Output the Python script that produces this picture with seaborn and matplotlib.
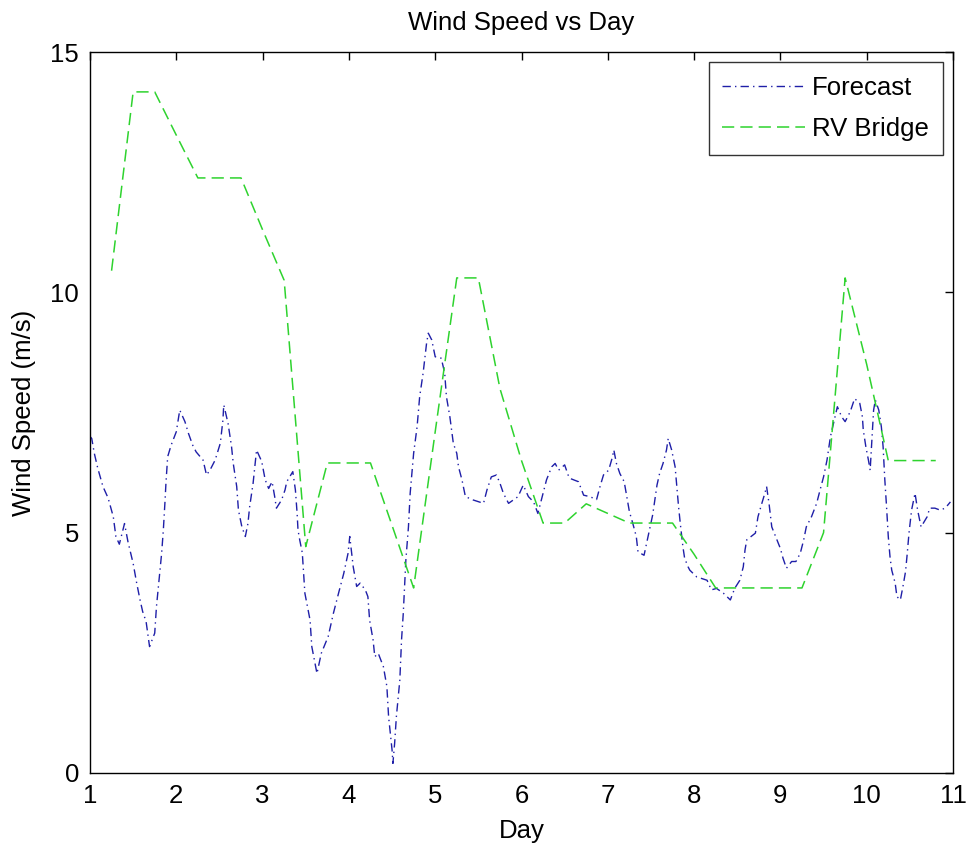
import matplotlib
matplotlib.use("Agg")
import matplotlib.pyplot as plt
import seaborn as sns
import pandas as pd

# ---------------- data ----------------
forecast_day = [
    1.00, 1.02, 1.05, 1.09, 1.15, 1.21, 1.27, 1.30, 1.34, 1.40, 1.44, 1.50, 1.54, 1.58, 1.61, 1.65,
    1.69, 1.75, 1.77, 1.80, 1.83, 1.85, 1.87, 1.88, 1.90, 1.94, 2.00, 2.04, 2.10, 2.14, 2.19, 2.23,
    2.31, 2.35, 2.39, 2.45, 2.51, 2.54, 2.55, 2.60, 2.64, 2.66, 2.70, 2.72, 2.76, 2.80, 2.83, 2.85,
    2.89, 2.91, 2.93, 2.99, 3.03, 3.07, 3.11, 3.14, 3.16, 3.22, 3.26, 3.28, 3.35, 3.38, 3.40, 3.41,
    3.43, 3.46, 3.49, 3.55, 3.57, 3.63, 3.68, 3.76, 3.82, 3.88, 3.94, 3.99, 4.01, 4.05, 4.09, 4.13,
    4.19, 4.22, 4.24, 4.28, 4.30, 4.34, 4.40, 4.44, 4.46, 4.50, 4.51, 4.53, 4.55, 4.59, 4.61, 4.63,
    4.65, 4.66, 4.69, 4.71, 4.75, 4.79, 4.82, 4.86, 4.90, 4.92, 4.96, 5.00, 5.07, 5.11, 5.13, 5.17,
    5.21, 5.25, 5.27, 5.31, 5.35, 5.44, 5.56, 5.60, 5.65, 5.71, 5.75, 5.79, 5.85, 5.96, 6.02, 6.08,
    6.14, 6.19, 6.25, 6.29, 6.35, 6.39, 6.43, 6.50, 6.54, 6.56, 6.66, 6.72, 6.79, 6.87, 6.91, 6.95,
    7.01, 7.05, 7.07, 7.10, 7.14, 7.19, 7.22, 7.25, 7.29, 7.33, 7.35, 7.42, 7.45, 7.49, 7.52, 7.55,
    7.57, 7.60, 7.64, 7.68, 7.70, 7.74, 7.78, 7.80, 7.82, 7.84, 7.87, 7.89, 7.93, 7.95, 8.03, 8.15,
    8.20, 8.26, 8.34, 8.42, 8.47, 8.53, 8.57, 8.59, 8.61, 8.71, 8.74, 8.78, 8.82, 8.84, 8.87, 8.90,
    8.96, 9.00, 9.03, 9.07, 9.13, 9.18, 9.23, 9.27, 9.30, 9.36, 9.42, 9.46, 9.50, 9.54, 9.56, 9.58,
    9.62, 9.66, 9.71, 9.75, 9.81, 9.86, 9.92, 9.95, 9.96, 9.99, 10.02, 10.04, 10.08, 10.10, 10.14, 10.17,
    10.19, 10.21, 10.23, 10.25, 10.27, 10.29, 10.33, 10.35, 10.39, 10.42, 10.45, 10.47, 10.49, 10.52, 10.56, 10.59,
    10.63, 10.70, 10.73, 10.79, 10.85, 10.91, 10.97,
]
forecast_speed = [
    7.00, 6.96, 6.65, 6.34, 5.96, 5.72, 5.33, 4.92, 4.76, 5.19, 4.81, 4.36, 3.96, 3.60, 3.36, 3.15,
    2.63, 2.91, 3.46, 4.01, 4.57, 5.06, 5.68, 6.03, 6.58, 6.82, 7.10, 7.55, 7.31, 7.07, 6.82, 6.68,
    6.51, 6.20, 6.30, 6.51, 6.86, 7.34, 7.66, 7.27, 6.79, 6.44, 5.96, 5.47, 5.12, 4.92, 5.19, 5.54,
    6.03, 6.37, 6.72, 6.48, 6.10, 5.92, 6.06, 5.75, 5.51, 5.68, 5.89, 6.06, 6.27, 5.89, 5.40, 5.06,
    4.85, 4.58, 3.74, 3.18, 2.63, 2.07, 2.49, 2.84, 3.32, 3.74, 4.15, 4.57, 4.92, 4.29, 3.88, 3.95,
    3.81, 3.67, 3.18, 2.77, 2.42, 2.49, 2.21, 1.80, 1.17, 0.48, 0.20, 0.62, 1.17, 1.93, 2.77, 3.32,
    4.08, 4.43, 5.12, 5.82, 6.65, 7.20, 7.83, 8.32, 8.94, 9.15, 9.01, 8.66, 8.63, 8.32, 7.83, 7.41,
    6.86, 6.65, 6.37, 6.10, 5.75, 5.68, 5.61, 5.89, 6.16, 6.20, 6.03, 5.82, 5.61, 5.75, 5.99, 5.75,
    5.64, 5.40, 5.82, 6.10, 6.37, 6.44, 6.30, 6.41, 6.20, 6.13, 6.06, 5.78, 5.75, 5.69, 5.96, 6.20,
    6.30, 6.55, 6.72, 6.44, 6.23, 6.06, 5.75, 5.44, 5.19, 4.92, 4.60, 4.53, 4.78, 5.12, 5.37, 5.75,
    5.99, 6.23, 6.44, 6.72, 6.96, 6.72, 6.37, 5.96, 5.54, 5.19, 4.71, 4.47, 4.29, 4.22, 4.08, 4.01,
    3.81, 3.84, 3.74, 3.60, 3.84, 4.01, 4.29, 4.64, 4.85, 4.99, 5.33, 5.58, 5.82, 5.96, 5.58, 5.12,
    4.85, 4.67, 4.47, 4.26, 4.40, 4.40, 4.57, 4.85, 5.12, 5.33, 5.61, 5.89, 6.16, 6.51, 6.75, 7.00,
    7.31, 7.62, 7.41, 7.31, 7.52, 7.79, 7.69, 7.41, 7.14, 6.79, 6.51, 6.30, 7.55, 7.76, 7.55, 7.20,
    6.79, 6.10, 5.54, 4.92, 4.50, 4.22, 3.95, 3.67, 3.60, 3.88, 4.19, 4.57, 4.99, 5.47, 5.82, 5.47,
    5.12, 5.33, 5.51, 5.51, 5.47, 5.51, 5.64,
]

bridge_day = [
    1.25, 1.50, 1.75, 2.00, 2.25, 2.50, 2.75, 3.00, 3.25, 3.50, 3.75, 4.00, 4.25, 4.50, 4.75, 5.00,
    5.25, 5.50, 5.75, 6.00, 6.25, 6.50, 6.75, 7.00, 7.25, 7.50, 7.75, 8.00, 8.25, 8.50, 8.75, 9.00,
    9.25, 9.50, 9.75, 10.00, 10.25, 10.50, 10.80,
]
bridge_speed = [
    10.45, 14.17, 14.17, 13.27, 12.38, 12.38, 12.38, 11.30, 10.25, 4.71, 6.45, 6.45, 6.45, 5.15, 3.85, 7.10,
    10.30, 10.30, 8.00, 6.50, 5.20, 5.20, 5.60, 5.40, 5.20, 5.20, 5.20, 4.55, 3.85, 3.85, 3.85, 3.85,
    3.85, 5.00, 10.30, 8.50, 6.50, 6.50, 6.50,
]

series_names = ["Forecast", "RV Bridge"]
title = "Wind Speed vs Day"
x_label = "Day"
y_label = "Wind Speed (m/s)"
x_ticks = [1, 2, 3, 4, 5, 6, 7, 8, 9, 10, 11]
y_ticks = [0, 5, 10, 15]

# ---------------- style ----------------
sns.set_style("white")
plt.rcParams["font.family"] = ["Liberation Sans", "DejaVu Sans"]
plt.rcParams["text.color"] = "black"
plt.rcParams["axes.labelcolor"] = "black"
plt.rcParams["xtick.color"] = "black"
plt.rcParams["ytick.color"] = "black"
FS = 18.5

fig = plt.figure(figsize=(9.71, 8.51), dpi=100)
ax = fig.add_axes([90 / 971, 78 / 851, 863 / 971, 721 / 851])

df_f = pd.DataFrame({"day": forecast_day, "speed": forecast_speed})
df_b = pd.DataFrame({"day": bridge_day, "speed": bridge_speed})

sns.lineplot(data=df_f, x="day", y="speed", ax=ax, color="#1f1fa8", linewidth=1.0,
             estimator=None, sort=False, label=series_names[0], dashes=False)
sns.lineplot(data=df_b, x="day", y="speed", ax=ax, color="#2ed32e", linewidth=1.1,
             estimator=None, sort=False, label=series_names[1], dashes=False)
ax.lines[0].set_dashes([6, 3, 1, 3])
ax.lines[1].set_dashes([8, 4])

ax.set_xlim(1, 11)
ax.set_ylim(0, 15)
ax.set_xticks(x_ticks)
ax.set_yticks(y_ticks)
ax.set_xticklabels([str(t) for t in x_ticks])
ax.set_yticklabels([str(t) for t in y_ticks])
ax.tick_params(direction="in", length=6, width=1, top=True, right=True,
               labelsize=FS, colors="black", pad=8)
for s in ax.spines.values():
    s.set_visible(True)
    s.set_color("black")
    s.set_linewidth(1.0)

ax.set_title(title, fontsize=FS, pad=16, color="black")
ax.set_xlabel(x_label, fontsize=FS, labelpad=8)
ax.set_ylabel(y_label, fontsize=FS, labelpad=10)

leg = ax.legend(loc="upper right", fontsize=FS, frameon=True, fancybox=False,
                edgecolor="black", handlelength=3.2, handletextpad=0.3,
                labelspacing=0.67, borderaxespad=0.4, borderpad=0.53)
leg.get_frame().set_linewidth(1.0)
for t in leg.get_texts():
    t.set_color("black")
leg.get_lines()[0].set_dashes([6, 3, 1, 3])
leg.get_lines()[1].set_dashes([8, 4])

fig.savefig("out.png", dpi=100, facecolor="white")
